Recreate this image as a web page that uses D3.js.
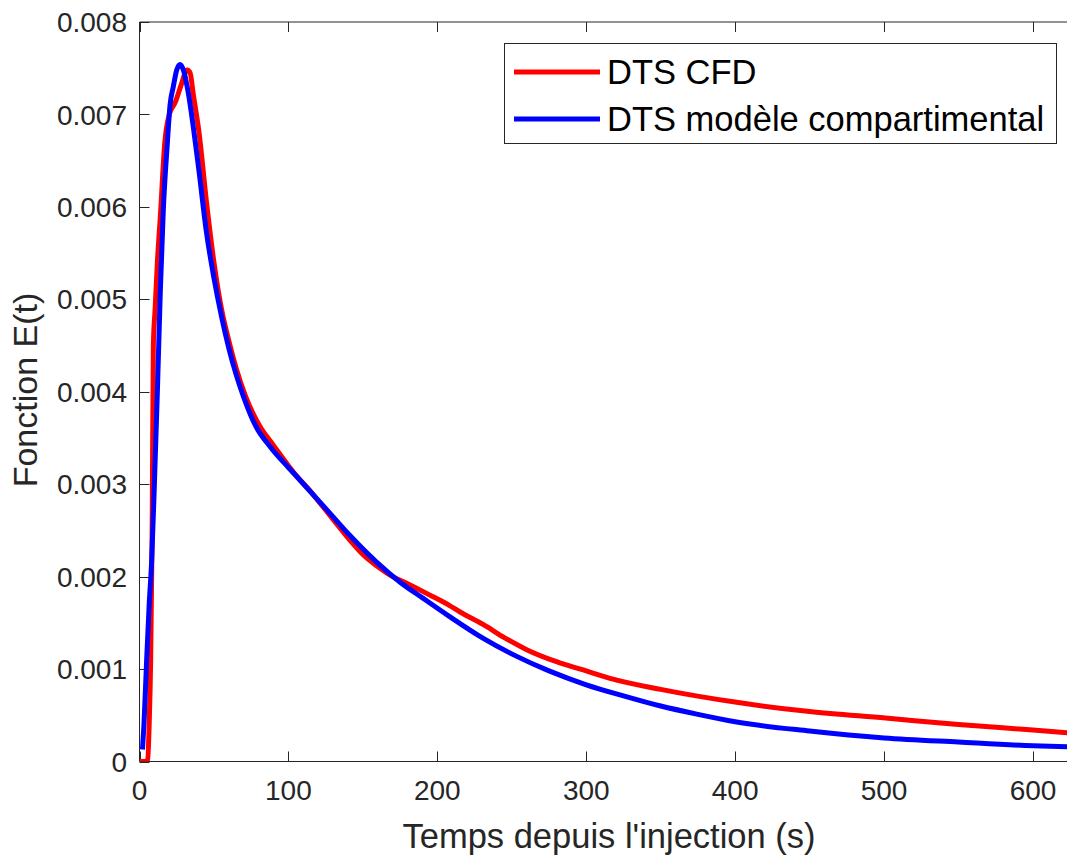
<!DOCTYPE html>
<html><head><meta charset="utf-8">
<script src="https://cdn.jsdelivr.net/npm/d3@7"></script>
<style>body{margin:0;background:#fff}svg{display:block}text{font-family:"Liberation Sans",Arial,sans-serif;fill:#262626}</style>
</head><body>
<script>
const xTicks=[0,100,200,300,400,500,600];
const yTicks=[0,0.001,0.002,0.003,0.004,0.005,0.006,0.007,0.008];
const yTickLabels=["0","0.001","0.002","0.003","0.004","0.005","0.006","0.007","0.008"];
const seriesNames=["DTS CFD","DTS modèle compartimental"];
const seriesColors=["#ff0000","#0000ff"];
const cfdT=[0,4,5.5,6.5,7.5,8.5,9.3,10.5,12,14,17,20,24,28,32,34,36,40,45,50,55,60,65,71,81,90,100,106,115,121,130,141,150,159,170,179,195,208,215,231,245,260,280,298,316,350,401,450,501,550,600,624];
const cfdE=[0,0,0.00002,0.0004,0.0011,0.0025,0.0045,0.0049,0.0054,0.0059,0.0067,0.0070,0.00713,0.00732,0.00748,0.00745,0.00723,0.0068,0.00605,0.0054,0.0049,0.00455,0.00425,0.00396,0.00362,0.00342,0.0032,0.00308,0.00292,0.0028,0.00262,0.0024,0.00224,0.00212,0.002,0.00193,0.0018,0.00169,0.00162,0.00148,0.00134,0.00121,0.00108,0.00099,0.0009,0.00078,0.00064,0.00054,0.00047,0.0004,0.00034,0.00031];
const modT=[2,3,4.8,6.5,8.2,10,12,14,16,18.7,20.5,22.7,25,27.2,29.5,32.8,36,40,45,50,55,60,65,70,78,88,100,108,126,141,159,175,190,208,230,253,275,300,325,350,375,400,450,500,550,600,624];
const modE=[0.00013,0.0004,0.0011,0.0017,0.00218,0.003,0.004,0.0051,0.00597,0.00669,0.0071,0.0073,0.00748,0.00754,0.00748,0.00723,0.00688,0.00638,0.00572,0.00523,0.00482,0.00447,0.00418,0.00394,0.00363,0.0034,0.00318,0.00304,0.00272,0.00245,0.00216,0.00194,0.00177,0.00157,0.00134,0.00114,0.00098,0.00083,0.00071,0.0006,0.00051,0.00043,0.00033,0.000255,0.00021,0.00017,0.00016];

const W=1067,H=856;
const L=139.5,T=22,B=761.5;
const x=d3.scaleLinear().domain([0,600]).range([L,1033]);
const xMax=624;
const R=x(xMax);
const y=d3.scaleLinear().domain([0,0.008]).range([B,T]);
const svg=d3.select("body").append("svg").attr("width",W).attr("height",H);
svg.append("defs").append("clipPath").attr("id","clip").append("rect").attr("x",L).attr("y",T).attr("width",R-L).attr("height",B-T);

const ax="#262626";
svg.append("line").attr("x1",L).attr("x2",R).attr("y1",B).attr("y2",B).attr("stroke",ax);
svg.append("line").attr("x1",L).attr("x2",R).attr("y1",T).attr("y2",T).attr("stroke",ax);
svg.append("line").attr("x1",L).attr("x2",L).attr("y1",T).attr("y2",B).attr("stroke",ax);
xTicks.forEach(t=>{
  const px=Math.round(x(t))+0.5;
  svg.append("line").attr("x1",px).attr("x2",px).attr("y1",B).attr("y2",B-10).attr("stroke",ax);
  svg.append("line").attr("x1",px).attr("x2",px).attr("y1",T).attr("y2",T+10).attr("stroke",ax);
  svg.append("text").attr("x",x(t)).attr("y",800).attr("text-anchor","middle").attr("font-size",28).text(t);
});
yTicks.forEach((t,i)=>{
  const py=Math.round(y(t))+0.5;
  svg.append("line").attr("x1",L).attr("x2",L+10).attr("y1",py).attr("y2",py).attr("stroke",ax);
  svg.append("text").attr("x",127).attr("y",y(t)).attr("dy","0.36em").attr("text-anchor","end").attr("font-size",28).text(yTickLabels[i]);
});
svg.append("text").attr("x",609).attr("y",848).attr("text-anchor","middle").attr("font-size",34.5).text("Temps depuis l'injection (s)");
svg.append("text").attr("transform","translate(37,390) rotate(-90)").attr("text-anchor","middle").attr("font-size",34).text("Fonction E(t)");

const line=d3.line().x(d=>x(d[0])).y(d=>y(d[1])).curve(d3.curveMonotoneX);
const g=svg.append("g").attr("clip-path","url(#clip)");
const data=[cfdT.map((t,i)=>[t,cfdE[i]]),modT.map((t,i)=>[t,modE[i]])];
data.forEach((d,i)=>{
  g.append("path").datum(d).attr("d",line).attr("fill","none").attr("stroke",seriesColors[i]).attr("stroke-width",5).attr("stroke-linejoin","round");
});
const lg=svg.append("g");
lg.append("rect").attr("x",504.5).attr("y",43.5).attr("width",552).attr("height",100).attr("fill","#fff").attr("stroke",ax);
seriesNames.forEach((n,i)=>{
  const ly=72+i*47;
  lg.append("line").attr("x1",514).attr("x2",600).attr("y1",ly).attr("y2",ly).attr("stroke",seriesColors[i]).attr("stroke-width",5);
  lg.append("text").attr("x",607).attr("y",ly).attr("dy","0.36em").attr("font-size",34.5).style("fill","#000").text(n);
});
</script>
</body></html>
